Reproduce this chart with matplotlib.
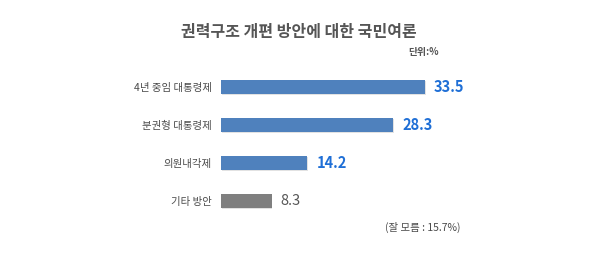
import matplotlib
matplotlib.use("Agg")
import matplotlib.pyplot as plt

plt.rcParams['font.family'] = ['Noto Sans CJK KR', 'DejaVu Sans']

categories = ["4년 중임 대통령제", "분권형 대통령제", "의원내각제", "기타 방안"]
values = [33.5, 28.3, 14.2, 8.3]
bar_colors = ["#4f81bd", "#4f81bd", "#4f81bd", "#7f7f7f"]
label_colors = ["#1f6fd6", "#1f6fd6", "#1f6fd6", "#555555"]
label_weights = ["bold", "bold", "bold", "medium"]
value_labels = ["33.5", "28.3", "14.2", "8.3"]
title = "권력구조 개편 방안에 대한 국민여론"
unit = "단위:%"
footnote = "(잘 모름 : 15.7%)"

W, H = 600, 258
fig = plt.figure(figsize=(W / 100, H / 100), dpi=100)
fig.patch.set_facecolor("white")

left = 221 / W
right = (221 + 6.09 * 50) / W
top = 1 - 68 / H
bottom = 1 - 220 / H
ax = fig.add_axes([left, bottom, right - left, top - bottom])
ax.set_xlim(0, 50)
ax.set_ylim(3.5, -0.5)

ypos = list(range(len(categories)))
# subtle shadow
ax.barh([y + 0.03 for y in ypos], values, height=0.37, left=0.12,
        color="#e2e2e2", zorder=1)
ax.barh(ypos, values, height=0.37, color=bar_colors, zorder=2)

for y, v, lab, c, w in zip(ypos, values, value_labels, label_colors, label_weights):
    ax.text(v + 1.5, y, lab, color=c, fontsize=10.5, fontweight=w,
            va="center", ha="left")

ax.set_yticks(ypos)
ax.set_yticklabels(categories, fontsize=7.5, color="#4a4a4a", fontweight="medium")
ax.tick_params(axis="y", length=0, pad=6.5)
ax.set_xticks([])
for s in ax.spines.values():
    s.set_visible(False)
ax.patch.set_alpha(0)

fig.text(299 / W, 1 - 32 / H, title, ha="center", va="center",
         fontsize=11.5, fontweight="bold", color="#555555")
fig.text(439 / W, 1 - 52 / H, unit, ha="right", va="center",
         fontsize=7, fontweight="bold", color="#555555")
fig.text(460 / W, 1 - 227 / H, footnote, ha="right", va="center",
         fontsize=7.5, color="#4a4a4a")

fig.savefig("out.png", dpi=100)
